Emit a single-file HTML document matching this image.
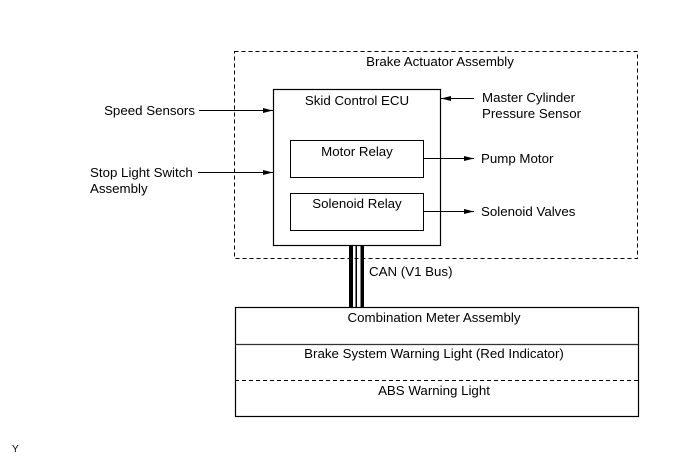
<!DOCTYPE html>
<html><head><meta charset="utf-8"><style>
html,body{margin:0;padding:0;background:#fff;}
svg{display:block;}
text{font-family:"Liberation Sans",Arial,sans-serif;font-size:13.3px;fill:#000;}
</style></head><body>
<svg width="691" height="467" viewBox="0 0 691 467" xmlns="http://www.w3.org/2000/svg">
<defs>
<marker id="a" markerWidth="10" markerHeight="6" refX="10" refY="3" orient="auto" markerUnits="userSpaceOnUse">
<path d="M0,0.5 L10,3 L0,5.5 Z" fill="#000"/></marker>
</defs>
<rect x="234.5" y="51.5" width="403" height="207" fill="none" stroke="#000" stroke-width="1" stroke-dasharray="4,3"/>
<text x="440" y="66" text-anchor="middle">Brake Actuator Assembly</text>
<rect x="273.5" y="89.5" width="167" height="156" fill="#fff" stroke="#000" stroke-width="1.2"/>
<text x="357" y="105" text-anchor="middle">Skid Control ECU</text>
<rect x="290.5" y="140.5" width="133" height="37" fill="#fff" stroke="#000" stroke-width="1"/>
<text x="357" y="156" text-anchor="middle">Motor Relay</text>
<rect x="290.5" y="193.5" width="133" height="37" fill="#fff" stroke="#000" stroke-width="1"/>
<text x="357" y="208" text-anchor="middle">Solenoid Relay</text>
<line x1="199" y1="110.5" x2="273" y2="110.5" stroke="#000" marker-end="url(#a)"/>
<text x="195" y="115" text-anchor="end">Speed Sensors</text>
<line x1="198" y1="172.5" x2="273" y2="172.5" stroke="#000" marker-end="url(#a)"/>
<text x="90" y="177">Stop Light Switch</text>
<text x="90" y="193">Assembly</text>
<line x1="474" y1="98.5" x2="441" y2="98.5" stroke="#000" marker-end="url(#a)"/>
<text x="482" y="102">Master Cylinder</text>
<text x="482" y="118">Pressure Sensor</text>
<line x1="424" y1="158.5" x2="474" y2="158.5" stroke="#000" marker-end="url(#a)"/>
<text x="481" y="163">Pump Motor</text>
<line x1="424" y1="211.5" x2="474" y2="211.5" stroke="#000" marker-end="url(#a)"/>
<text x="481" y="216">Solenoid Valves</text>
<rect x="349" y="246" width="4" height="61" fill="#000"/>
<rect x="355.5" y="246" width="1.5" height="61" fill="#000"/>
<rect x="360.5" y="246" width="3.5" height="61" fill="#000"/>
<text x="369" y="276">CAN (V1 Bus)</text>
<rect x="235.5" y="307.5" width="403" height="109" fill="none" stroke="#000" stroke-width="1.2"/>
<line x1="235" y1="344.5" x2="638" y2="344.5" stroke="#333" stroke-width="1.3"/>
<line x1="235" y1="380.5" x2="638" y2="380.5" stroke="#000" stroke-width="1" stroke-dasharray="4,3"/>
<text x="434" y="322" text-anchor="middle">Combination Meter Assembly</text>
<text x="434" y="358" text-anchor="middle">Brake System Warning Light (Red Indicator)</text>
<text x="434" y="395" text-anchor="middle">ABS Warning Light</text>
<text x="12" y="452" style="font-size:10px">Y</text>
</svg>
</body></html>
